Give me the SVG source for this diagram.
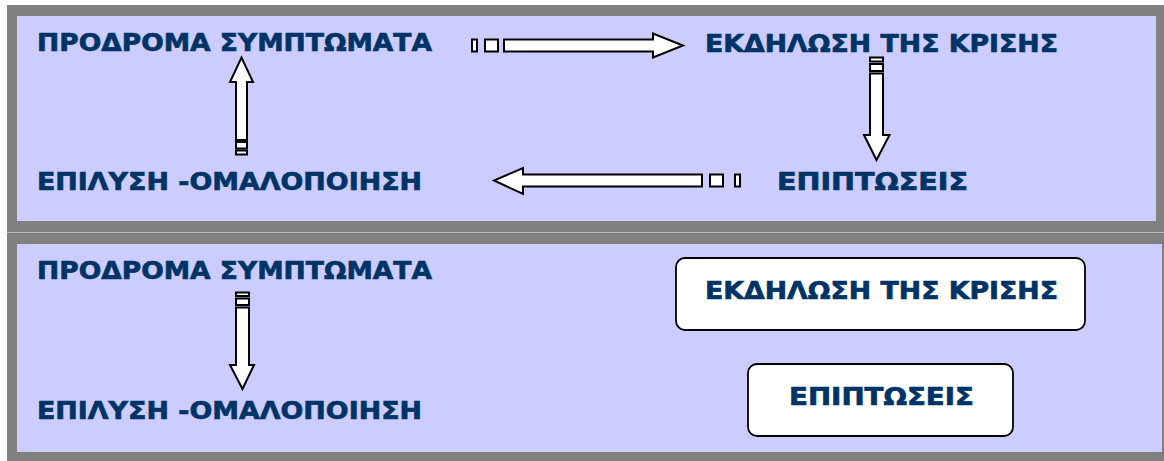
<svg xmlns="http://www.w3.org/2000/svg" width="1164" height="461" viewBox="0 0 1164 461">
<style>
.frame{fill:#808080}
.panel{fill:#CCCCFF}
.t{font-family:"DejaVu Sans","Verdana",sans-serif;font-weight:bold;font-size:25.5px;fill:#003366;stroke:#003366;stroke-width:0.7}
.ar{fill:#FFFFFF;stroke:#000000;stroke-width:2;stroke-linejoin:miter}
.box{fill:#FFFFFF;stroke:#000000;stroke-width:1.8}
</style>
<rect x="0" y="0" width="1164" height="461" fill="#FFFFFF"/>
<g id="panel-top">
<rect class="frame" x="7" y="5" width="1157" height="227"/>
<rect class="panel" x="17" y="16" width="1139" height="205"/>
</g>
<rect x="7" y="232" width="1157" height="1" fill="#B8B8B8"/>
<g id="panel-bottom">
<rect class="frame" x="7" y="233" width="1157" height="228"/>
<rect class="panel" x="17" y="244" width="1145" height="208"/>
</g>
<g id="n-prodroma-top"><text class="t" x="37" y="51" textLength="395" lengthAdjust="spacingAndGlyphs">ΠΡΟΔΡΟΜΑ ΣΥΜΠΤΩΜΑΤΑ</text></g>
<g id="n-ekdilosi-top"><text class="t" x="705" y="52" textLength="353" lengthAdjust="spacingAndGlyphs">ΕΚΔΗΛΩΣΗ ΤΗΣ ΚΡΙΣΗΣ</text></g>
<g id="n-epilysi-top"><text class="t" x="37" y="190" textLength="385" lengthAdjust="spacingAndGlyphs">ΕΠΙΛΥΣΗ -ΟΜΑΛΟΠΟΙΗΣΗ</text></g>
<g id="n-epiptoseis-top"><text class="t" x="777" y="190" textLength="191" lengthAdjust="spacingAndGlyphs">ΕΠΙΠΤΩΣΕΙΣ</text></g>
<g id="n-prodroma-bottom"><text class="t" x="37" y="279" textLength="395" lengthAdjust="spacingAndGlyphs">ΠΡΟΔΡΟΜΑ ΣΥΜΠΤΩΜΑΤΑ</text></g>
<g id="n-epilysi-bottom"><text class="t" x="37" y="419" textLength="385" lengthAdjust="spacingAndGlyphs">ΕΠΙΛΥΣΗ -ΟΜΑΛΟΠΟΙΗΣΗ</text></g>
<g id="n-ekdilosi-bottom">
<rect class="box" x="676" y="258" width="409" height="72" rx="9"/>
<text class="t" x="705" y="299" textLength="353" lengthAdjust="spacingAndGlyphs">ΕΚΔΗΛΩΣΗ ΤΗΣ ΚΡΙΣΗΣ</text>
</g>
<g id="n-epiptoseis-bottom">
<rect class="box" x="748" y="364" width="265" height="72" rx="9"/>
<text class="t" x="789" y="405" textLength="185" lengthAdjust="spacingAndGlyphs">ΕΠΙΠΤΩΣΕΙΣ</text>
</g>
<g id="connectors">
<rect class="ar" x="472" y="39.5" width="5" height="12"/>
<rect class="ar" x="485" y="39.5" width="13" height="12"/>
<path class="ar" d="M504 39.5 H653 V33.5 L683 45.5 L653 57.5 V51.5 H504 Z"/>
<rect class="ar" x="870" y="57.5" width="13" height="4"/>
<rect class="ar" x="870" y="64" width="13" height="7"/>
<path class="ar" d="M870 73.5 H883 V135 H889.5 L876.5 160 L864 135 H870 Z"/>
<rect class="ar" x="735" y="174.5" width="5" height="12"/>
<rect class="ar" x="710" y="174.5" width="13" height="12"/>
<path class="ar" d="M702 174.5 H523 V168 L494 180.5 L523 194 V186.5 H702 Z"/>
<rect class="ar" x="236" y="150.5" width="11" height="4"/>
<rect class="ar" x="236" y="142" width="11" height="6.5"/>
<path class="ar" d="M236 140 V82 H230 L241.5 57.5 L253 82 H247 V140 Z"/>
<rect class="ar" x="236" y="292.5" width="13" height="3.5"/>
<rect class="ar" x="236" y="298.5" width="13" height="6.5"/>
<path class="ar" d="M236 307.5 H249 V365 H254 L242.5 389 L230 365 H236 Z"/>
</g>
</svg>
